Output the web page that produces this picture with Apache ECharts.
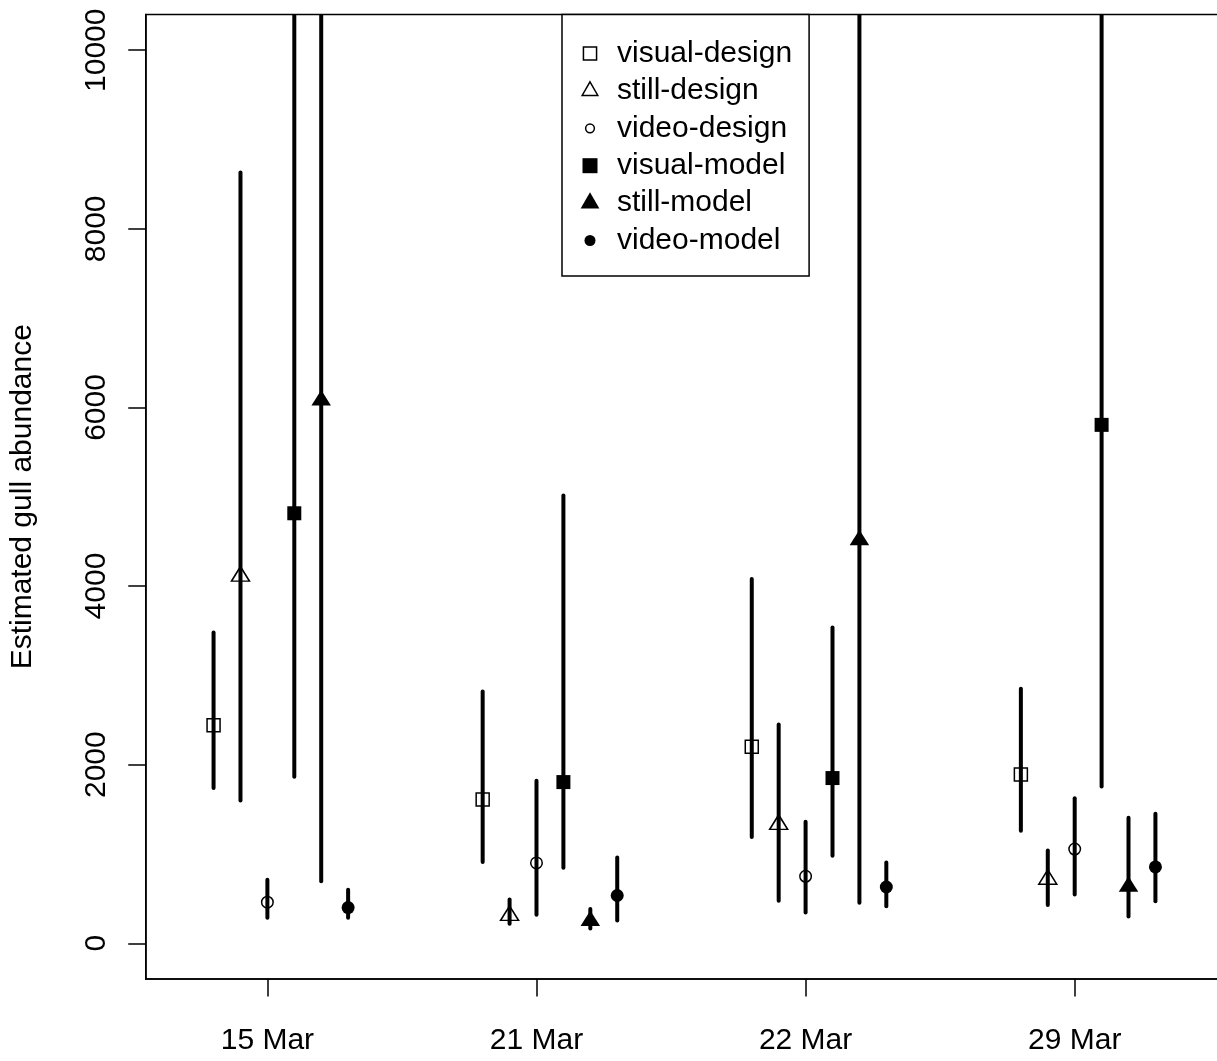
<!DOCTYPE html>
<html>
<head>
<meta charset="utf-8">
<script src="https://cdn.jsdelivr.net/npm/echarts@6.0.0/dist/echarts.min.js"></script>
<style>
  html, body { margin: 0; padding: 0; background: #ffffff; }
  #chart { width: 1217px; height: 1061px; }
</style>
</head>
<body>
<div id="chart"></div>
<script>
// ---------------- data ----------------
const dates = ['15 Mar', '21 Mar', '22 Mar', '29 Mar'];
const methods = ['visual-design', 'still-design', 'video-design', 'visual-model', 'still-model', 'video-model'];
const yTicks = [0, 2000, 4000, 6000, 8000, 10000];

// point estimates
const visualDesignEst = [2440, 1610, 2200, 1890];
const stillDesignEst  = [4110, 310, 1330, 715];
const videoDesignEst  = [460, 900, 750, 1055];
const visualModelEst  = [4815, 1805, 1850, 5805];
const stillModelEst   = [6080, 250, 4515, 635];
const videoModelEst   = [400, 535, 630, 855];

// lower confidence limits
const visualDesignLo = [1740, 910, 1190, 1260];
const stillDesignLo  = [1600, 220, 475, 430];
const videoDesignLo  = [285, 320, 345, 545];
const visualModelLo  = [1865, 845, 980, 1755];
const stillModelLo   = [695, 165, 455, 300];
const videoModelLo   = [285, 255, 415, 470];

// upper confidence limits (12000 = runs off the top of the plot)
const visualDesignHi = [3480, 2820, 4080, 2850];
const stillDesignHi  = [8630, 490, 2450, 1040];
const videoDesignHi  = [710, 1820, 1360, 1625];
const visualModelHi  = [12000, 5015, 3535, 12000];
const stillModelHi   = [12000, 385, 12000, 1405];
const videoModelHi   = [600, 960, 905, 1450];

// ---------------- build ----------------
const est = [visualDesignEst, stillDesignEst, videoDesignEst, visualModelEst, stillModelEst, videoModelEst];
const lo  = [visualDesignLo, stillDesignLo, videoDesignLo, visualModelLo, stillModelLo, videoModelLo];
const hi  = [visualDesignHi, stillDesignHi, videoDesignHi, visualModelHi, stillModelHi, videoModelHi];
const dodge = [-0.2, -0.1, 0, 0.1, 0.2, 0.3];
const xTicks = dates.map((d, i) => i + 1);

const FONT = "'Liberation Sans', Arial, Helvetica, sans-serif";
const openStyle = { color: 'rgba(0,0,0,0)', borderColor: '#000', borderWidth: 1.5, opacity: 1 };
const fillStyle = { color: '#000', borderWidth: 0, opacity: 1 };

const markerStyles = [
  { symbol: 'rect', symbolSize: 13, symbolOffset: [0, 0], itemStyle: openStyle },
  { symbol: 'triangle', symbolSize: [18, 14.5], symbolOffset: [0, -2.4], itemStyle: openStyle },
  { symbol: 'circle', symbolSize: 11.5, symbolOffset: [0, 0], itemStyle: openStyle },
  { symbol: 'rect', symbolSize: 14, symbolOffset: [0, 0], itemStyle: fillStyle },
  { symbol: 'triangle', symbolSize: [19.5, 15.5], symbolOffset: [0, -2.6], itemStyle: fillStyle },
  { symbol: 'circle', symbolSize: 13, symbolOffset: [0, 0], itemStyle: fillStyle }
];

const legendIcons = [
  { icon: 'path://M0,0M18,18M3.75,3.75L14.25,3.75L14.25,14.25L3.75,14.25Z', itemStyle: openStyle },
  { icon: 'path://M0,0M18,18M9,1.78L15.25,12.61L2.75,12.61Z', itemStyle: openStyle },
  { icon: 'path://M0,0M18,18M5.5,9A3.5,3.5,0,1,0,12.5,9A3.5,3.5,0,1,0,5.5,9Z', itemStyle: openStyle },
  { icon: 'path://M0,0M18,18M3,3L15,3L15,15L3,15Z', itemStyle: fillStyle },
  { icon: 'path://M0,0M18,18M9,0.33L16.5,13.33L1.5,13.33Z', itemStyle: fillStyle },
  { icon: 'path://M0,0M18,18M4.6,9A4.4,4.4,0,1,0,13.4,9A4.4,4.4,0,1,0,4.6,9Z', itemStyle: fillStyle }
];

const series = [];
methods.forEach((m, k) => {
  series.push({
    type: 'custom',
    name: m + ' CI',
    clip: true,
    z: 2,
    silent: true,
    encode: { x: 0, y: [1, 2] },
    data: dates.map((d, i) => [i + 1 + dodge[k], lo[k][i], hi[k][i]]),
    renderItem: function (params, api) {
      const p1 = api.coord([api.value(0), api.value(1)]);
      const p2 = api.coord([api.value(0), api.value(2)]);
      return {
        type: 'line',
        shape: { x1: p1[0], y1: p1[1], x2: p2[0], y2: p2[1] },
        style: { stroke: '#000', lineWidth: 4, lineCap: 'round' }
      };
    }
  });
});
methods.forEach((m, k) => {
  const ms = markerStyles[k];
  series.push({
    type: 'scatter',
    name: m,
    z: 3,
    clip: true,
    silent: true,
    symbol: ms.symbol,
    symbolSize: ms.symbolSize,
    symbolOffset: ms.symbolOffset,
    itemStyle: ms.itemStyle,
    emphasis: { disabled: true },
    data: dates.map((d, i) => [i + 1 + dodge[k], est[k][i]])
  });
});

const chart = echarts.init(document.getElementById('chart'), null, { renderer: 'canvas' });
chart.setOption({
  animation: false,
  backgroundColor: '#ffffff',
  textStyle: { fontFamily: FONT, color: '#000' },
  grid: {
    left: 145.75, top: 14.5, width: 1104.4, height: 964.5,
    show: true, borderColor: '#000', borderWidth: 1.5, backgroundColor: 'transparent',
    containLabel: false, outerBoundsMode: 'none'
  },
  legend: {
    orient: 'vertical',
    left: 562, top: 14.5,
    padding: [24, 17, 20.5, 16],
    itemWidth: 44, itemHeight: 22.5, itemGap: 7.4,
    symbolKeepAspect: true,
    borderColor: '#000', borderWidth: 1.5, backgroundColor: '#fff',
    selectedMode: false,
    textStyle: { fontSize: 30, lineHeight: 30, color: '#000', fontFamily: FONT },
    data: methods.map((m, k) => ({ name: m, icon: legendIcons[k].icon, itemStyle: legendIcons[k].itemStyle }))
  },
  xAxis: {
    type: 'value',
    min: 0.548, max: 4.652,
    splitLine: { show: false },
    axisLine: { show: true, onZero: false, lineStyle: { color: '#000', width: 1.5 } },
    axisTick: { show: true, length: 17.5, lineStyle: { color: '#000', width: 1.5 }, customValues: xTicks },
    axisLabel: {
      customValues: xTicks, margin: 47, fontSize: 30, color: '#000', fontFamily: FONT,
      formatter: function (v) { return dates[Math.round(v) - 1]; }
    }
  },
  yAxis: {
    type: 'value',
    min: -400, max: 10400,
    splitLine: { show: false },
    axisLine: { show: true, onZero: false, lineStyle: { color: '#000', width: 1.5 } },
    axisTick: { show: true, length: 17.5, lineStyle: { color: '#000', width: 1.5 }, customValues: yTicks },
    axisLabel: {
      customValues: yTicks, rotate: 90, margin: 34, fontSize: 30, color: '#000', fontFamily: FONT,
      formatter: function (v) { return String(v); }
    },
    name: 'Estimated gull abundance',
    nameLocation: 'middle',
    nameRotate: 90,
    nameGap: 108,
    nameTextStyle: { fontSize: 30, color: '#000', fontFamily: FONT }
  },
  series: series
});
</script>
</body>
</html>
